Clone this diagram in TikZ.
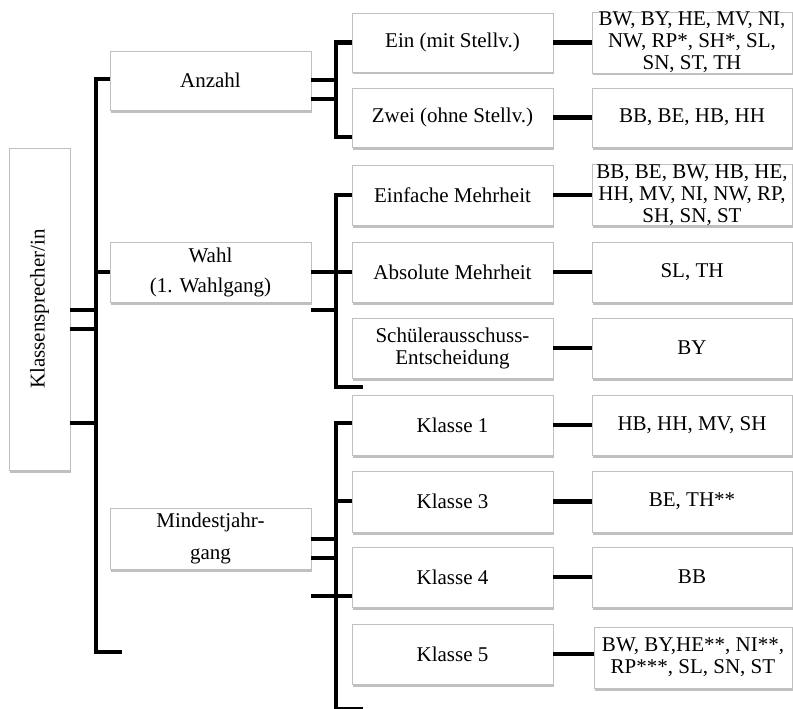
\documentclass[tikz,border=0pt]{standalone}
\usepackage{fontspec}
\setmainfont{Liberation Serif}
\usetikzlibrary{shadows}
\begin{document}
\begin{tikzpicture}[x=1pt,y=-1pt,
  box/.style={draw=black!25, line width=0.6pt, fill=white, inner sep=0pt, align=center,
    font=\fontsize{21}{22}\selectfont,
    drop shadow={shadow xshift=1.2pt, shadow yshift=-2.5pt, fill=black!45, opacity=0.55}},
  lvl/.style={box, minimum width=201pt, minimum height=60pt},
  res/.style={box, minimum width=200pt, minimum height=60pt},
  conn/.style={line width=4.5pt, line join=miter, line cap=butt},
  thinconn/.style={line width=1.6pt}]
\useasboundingbox (0,0) rectangle (793,709);
% root
\node[box, minimum width=61pt, minimum height=322pt] (root) at (39.5,309) {};
\node[rotate=90, font=\fontsize{21}{22}\selectfont] (roottext) at (root.center) {Klassensprecher/in};
% level 1
\node[lvl, minimum height=59pt] (anz) at (210.5,80.5) {Anzahl};
\node[lvl, font=\fontsize{21}{30}\selectfont] (wahl) at (210.5,272) {Wahl\\(1. Wahlgang)};
\node[lvl, minimum height=61pt, font=\fontsize{21}{32}\selectfont] (mind) at (210.5,538.5) {Mindestjahr-\\gang};
% level 2
\node[lvl, minimum height=59pt] (ein) at (452.5,42.5) {Ein (mit Stellv.)};
\node[lvl, minimum height=59pt] (zwei) at (452.5,117.5) {Zwei (ohne Stellv.)};
\node[lvl] (einf) at (452.5,195) {Einfache Mehrheit};
\node[lvl] (abs) at (452.5,272) {Absolute Mehrheit};
\node[lvl] (schu) at (452.5,348) {Schülerausschuss-\\Entscheidung};
\node[lvl] (k1) at (452.5,425) {Klasse 1};
\node[lvl, minimum height=61pt] (k3) at (452.5,501.5) {Klasse 3};
\node[lvl] (k4) at (452.5,577) {Klasse 4};
\node[lvl] (k5) at (452.5,654) {Klasse 5};
% level 3
\node[res, minimum height=59pt] (r1) at (692,42.5) {BW, BY, HE, MV, NI,\\NW, RP*, SH*, SL,\\SN, ST, TH};
\node[res, minimum height=59pt] (r2) at (692,117.5) {BB, BE, HB, HH};
\node[res] (r3) at (692,195) {BB, BE, BW, HB, HE,\\HH, MV, NI, NW, RP,\\SH, SN, ST};
\node[res] (r4) at (692,272) {SL, TH};
\node[res] (r5) at (692,348) {BY};
\node[res] (r6) at (692,425) {HB, HH, MV, SH};
\node[res, minimum height=61pt] (r7) at (692,501.5) {BE, TH**};
\node[res] (r8) at (692,577) {BB};
\node[res, minimum width=198pt, minimum height=61pt] (r9) at (693,657.5) {BW, BY,HE**, NI**,\\RP***, SL, SN, ST};
% root connectors
\coordinate (rb1) at (96,79);
\coordinate (rb2) at (96,652);
\draw[conn] (anz.west |- rb1) -- (rb1) -- (rb2) -- (122,652);
\draw[conn] (root.east |- 0,310) -- (96,310);
\draw[conn] (root.east |- 0,329) -- (96,329);
\draw[conn] (root.east |- 0,423) -- (96,423);
\draw[conn] (96,272) -- (wahl.west);
% Anzahl bracket
\draw[conn] (ein.west) -- (336,42.5) -- (336,137) -- (zwei.west |- 0,137);
\draw[conn] (anz.east |- 0,80) -- (336,80);
\draw[conn] (anz.east |- 0,99) -- (336,99);
% Wahl bracket
\draw[conn] (einf.west |- 0,195) -- (336,195) -- (336,387) -- (363,387);
\draw[conn] (wahl.east) -- (abs.west);
\draw[conn] (wahl.east |- 0,310) -- (336,310);
% Mindest bracket
\draw[conn] (k1.west |- 0,423) -- (336,423) -- (336,712);
\draw[conn] (336,501) -- (k3.west |- 0,501);
\draw[conn] (mind.east |- 0,539) -- (336,539);
\draw[conn] (mind.east |- 0,558) -- (336,558);
\draw[conn] (mind.east |- 0,596) -- (k4.west |- 0,596);
\draw[thinconn] (336,708) -- (363,708);
% level 2 to level 3
\draw[conn] (ein.east) -- (r1.west);
\draw[conn] (zwei.east) -- (r2.west);
\draw[conn] (einf.east) -- (r3.west);
\draw[conn] (abs.east) -- (r4.west);
\draw[conn] (schu.east) -- (r5.west);
\draw[conn] (k1.east) -- (r6.west);
\draw[conn] (k3.east) -- (r7.west);
\draw[conn] (k4.east) -- (r8.west);
\draw[conn] (k5.east) -- (r9.west |- k5.east);
\end{tikzpicture}
\end{document}
